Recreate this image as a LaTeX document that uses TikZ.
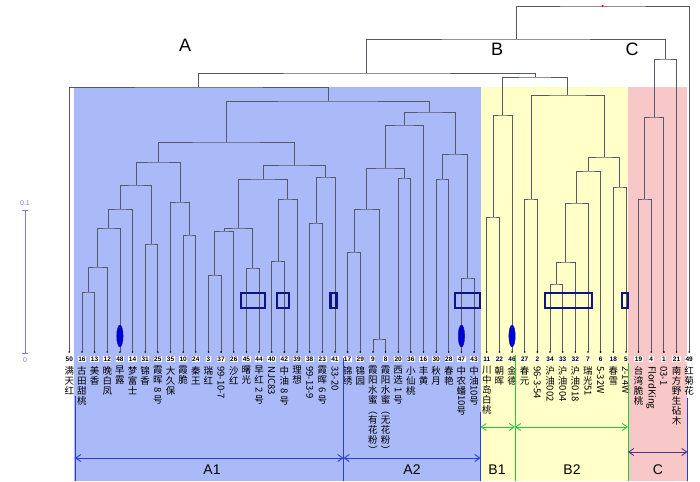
\documentclass[tikz,border=0pt]{standalone}
\usepackage{graphicx}
\usepackage{fontspec}
\setmainfont{Liberation Sans}
\newfontfamily\cjk{Noto Sans CJK SC}
\usetikzlibrary{calc, arrows.meta}

\definecolor{regA}{RGB}{170,186,248}
\definecolor{regB}{RGB}{255,255,200}
\definecolor{regC}{RGB}{248,200,200}
\definecolor{treeline}{RGB}{88,88,108}
\definecolor{markblue}{RGB}{15,20,130}
\definecolor{grpA}{RGB}{40,60,230}
\definecolor{grpB}{RGB}{40,200,60}
\definecolor{grpC}{RGB}{80,50,140}
\definecolor{scaleblue}{RGB}{120,120,240}

\newcommand{\rot}[1]{\rotatebox[origin=c]{-90}{#1}}
% join two branches at a given height
\newcommand{\merge}[4]{%
  \path let \p1=(#2), \p2=(#3) in ({0.5*\x1+0.5*\x2},{-#4pt}) coordinate (#1);
  \draw[branch] (#2) |- (#1) -| (#3);}

\begin{document}
\begin{tikzpicture}[x=1pt, y=-1pt,
  branch/.style={draw=treeline, line width=0.8pt},
  leafnum/.style={fill=white, inner sep=0.6pt, font=\bfseries\fontsize{6.5}{7}\selectfont},
  cn/.style={anchor=north, align=center, inner sep=0pt, font=\cjk\fontsize{9.5}{10}\selectfont},
  cnrot/.style={anchor=west, rotate=-90, inner sep=0pt, font=\cjk\fontsize{9.5}{10}\selectfont},
  hit/.style={draw=markblue, line width=2.2pt},
  grp/.style={<->, >={Straight Barb[length=5pt,width=7pt]}, line width=0.9pt}]
  \useasboundingbox (0,0) rectangle (700,481);

  % Cluster backgrounds
  \fill[regA] (74,87) rectangle (480.5,481);
  \fill[regB] (480.5,87) rectangle (628,481);
  \fill[regC] (628,87) rectangle (687,481);

  % Leaves
  \foreach \i in {0,...,49}
    \coordinate (l\i) at ({69.3+12.65*\i},352);

  % Cluster A1
  \merge{m1}{l1}{l2}{292}
  \merge{m2}{m1}{l3}{267}
  \merge{m3}{m2}{l4}{228}
  \merge{m4}{m3}{l5}{209}
  \merge{m5}{l6}{l7}{244}
  \merge{m6}{m4}{m5}{185}
  \merge{m7}{l9}{l10}{235}
  \merge{m8}{l8}{m7}{202}
  \merge{m9}{m6}{m8}{162}
  \merge{m10}{l11}{l12}{275}
  \merge{m11}{m10}{l13}{231}
  \merge{m12}{l14}{l15}{268}
  \merge{m13}{m11}{m12}{228}
  \merge{m14}{l16}{l17}{261}
  \merge{m15}{m14}{l18}{199}
  \merge{m16}{m13}{m15}{179}
  \merge{m17}{l19}{l20}{223}
  \merge{m18}{m17}{l21}{177}
  \merge{m19}{m16}{m18}{165}
  \merge{m20}{m9}{m19}{142}
  % Cluster A2
  \merge{m21}{l22}{l23}{252}
  \merge{m22}{l24}{l25}{339}
  \merge{m23}{m21}{m22}{209}
  \merge{m24}{l26}{l27}{178}
  \merge{m25}{m23}{m24}{168}
  \merge{m26}{m25}{l28}{125}
  \merge{m27}{l29}{l30}{179}
  \merge{m28}{l31}{l32}{278}
  \merge{m29}{m27}{m28}{154}
  \merge{m30}{m26}{m29}{112}
  \merge{m31}{m20}{m30}{101}
  \merge{m32}{l0}{m31}{87}
  % Cluster B
  \merge{m33}{l33}{l34}{217}
  \merge{m34}{m33}{l35}{115}
  \merge{m35}{l36}{l37}{199}
  \merge{m36}{l38}{l39}{284}
  \merge{m37}{m36}{l40}{262}
  \merge{m38}{m37}{l41}{203}
  \merge{m39}{m38}{l42}{171}
  \merge{m40}{l43}{l44}{187}
  \merge{m41}{m39}{m40}{157}
  \merge{m42}{m35}{m41}{95}
  \merge{m43}{m34}{m42}{77}
  \merge{m44}{m32}{m43}{73}
  % Cluster C and root
  \merge{m45}{l45}{l46}{199}
  \merge{m46}{m45}{l47}{117}
  \merge{m47}{m46}{l48}{59}
  \merge{m48}{m44}{m47}{39}
  \merge{m49}{m48}{l49}{6}
  \fill[red] (m49) circle (1.2pt);

  \foreach \i in {0,...,49}
    \fill (l\i) circle (0.9pt);

  % Marked loci
  \draw[hit] (241,293) rectangle (265,308);
  \draw[hit] (277,293) rectangle (289,308);
  \draw[hit] (330.5,293) rectangle (336.5,308);
  \draw[hit] (455,293) rectangle (480,308);
  \draw[hit] (545,293) rectangle (592,308);
  \draw[hit] (622,293) rectangle (628,308);
  \foreach \i in {4,31,35}
    \filldraw[fill=blue!85!black, draw=markblue] ($(l\i)+(0,-16)$) ellipse (3.2pt and 11pt);

  % Leaf numbers
  \foreach \i/\n in {0/50,1/16,2/13,3/12,4/48,5/14,6/31,7/25,8/35,9/10,10/24,11/3,12/37,13/26,14/45,15/44,16/40,17/42,18/39,19/38,20/23,21/41,22/17,23/29,24/9,25/8,26/20,27/36,28/16,29/30,30/28,31/47,32/43,33/11,34/22,35/46,36/27,37/2,38/34,39/33,40/32,41/7,42/6,43/18,44/5,45/19,46/4,47/1,48/21,49/49}
    \node[leafnum] (n\i) at ($(l\i)+(0,7)$) {\n};

  % Cultivar names
  \node[cn] (t0) at (69.3,366) {满\\天\\红};
  \node[cn] (t1) at (81.95,366) {古\\田\\甜\\桃};
  \node[cn] (t2) at (94.6,366) {美\\香};
  \node[cn] (t3) at (107.25,366) {晚\\白\\凤};
  \node[cn] (t4) at (119.9,366) {早\\露};
  \node[cn] (t5) at (132.55,366) {梦\\富\\士};
  \node[cn] (t6) at (145.2,366) {锦\\香};
  \node[cn] (t7) at (157.85,366) {霞\\晖\\\rot{8}\\号};
  \node[cn] (t8) at (170.5,366) {大\\久\\保};
  \node[cn] (t9) at (183.15,366) {霞\\脆};
  \node[cn] (t10) at (195.8,366) {秦\\王};
  \node[cn] (t11) at (208.45,366) {瑞\\红};
  \node[cnrot] (t12) at (221.1,366) {99-10-7};
  \node[cn] (t13) at (233.75,366) {沙\\红};
  \node[cn] (t14) at (246.4,366) {曙\\光};
  \node[cn] (t15) at (259.05,366) {早\\红\\\rot{2}\\号};
  \node[cnrot] (t16) at (271.7,366) {NJC83};
  \node[cn] (t17) at (284.35,366) {中\\油\\\rot{8}\\号};
  \node[cn] (t18) at (297.0,366) {理\\想};
  \node[cnrot] (t19) at (309.65,366) {99-13-9};
  \node[cn] (t20) at (322.3,366) {霞\\晖\\\rot{6}\\号};
  \node[cnrot] (t21) at (334.95,366) {33-20};
  \node[cn] (t22) at (347.6,366) {锦\\绣};
  \node[cn] (t23) at (360.25,366) {锦\\园};
  \node[cn] (t24) at (372.9,366) {霞\\阳\\水\\蜜\\\rot{（}\\有\\花\\粉\\\rot{）}};
  \node[cn] (t25) at (385.55,366) {霞\\阳\\水\\蜜\\\rot{（}\\无\\花\\粉\\\rot{）}};
  \node[cn] (t26) at (398.2,366) {西\\选\\\rot{1}\\号};
  \node[cn] (t27) at (410.85,366) {小\\仙\\桃};
  \node[cn] (t28) at (423.5,366) {丰\\黄};
  \node[cn] (t29) at (436.15,366) {秋\\月};
  \node[cn] (t30) at (448.8,366) {春\\艳};
  \node[cn] (t31) at (461.45,366) {中\\农\\蟠\\\rot{10}\\号};
  \node[cn] (t32) at (474.1,366) {中\\油\\\rot{10}\\号};
  \node[cn] (t33) at (486.75,366) {川\\中\\岛\\白\\桃};
  \node[cn] (t34) at (499.4,366) {朝\\晖};
  \node[cn] (t35) at (512.05,366) {金\\德};
  \node[cn] (t36) at (524.7,366) {春\\元};
  \node[cnrot] (t37) at (537.35,366) {96-3-54};
  \node[cn] (t38) at (550.0,366) {沪\\油\\\rot{002}};
  \node[cn] (t39) at (562.65,366) {沪\\油\\\rot{004}};
  \node[cn] (t40) at (575.3,366) {沪\\油\\\rot{018}};
  \node[cn] (t41) at (587.95,366) {瑞\\光\\\rot{51}};
  \node[cnrot] (t42) at (600.6,366) {5-32W};
  \node[cn] (t43) at (613.25,366) {春\\雪};
  \node[cnrot] (t44) at (625.9,366) {2-14W};
  \node[cn] (t45) at (638.55,366) {台\\湾\\脆\\桃};
  \node[cnrot] (t46) at (651.2,366) {FlordKing};
  \node[cnrot] (t47) at (663.85,366) {03-1};
  \node[cn] (t48) at (676.5,366) {南\\方\\野\\生\\砧\\木};
  \node[cn] (t49) at (689.15,366) {红\\菊\\花};

  % Group borders and spans
  \draw[grpA, line width=1pt] (75,396) -- (75,481);
  \draw[grpA, line width=1pt] (343.5,358) -- (343.5,481);
  \draw[grpA, line width=1pt] (480.5,412) -- (480.5,481);
  \draw[grpB, line width=1pt] (515,355) -- (515,481);
  \draw[grpB, line width=1pt] (628,363) -- (628,481);
  \draw[grpA, line width=1pt] (687.5,398) -- (687.5,481);
  \draw[grp, grpA] (75,458) -- (343.5,458);
  \draw[grp, grpA] (343.5,458) -- (480.5,458);
  \draw[grp, grpB] (480.5,427) -- (515,427);
  \draw[grp, grpB] (515,427) -- (628,427);
  \draw[grp, grpC] (628,452) -- (687.5,452);

  % Group labels
  \node[font=\fontsize{18}{18}\selectfont] (labA) at (185,45) {A};
  \node[font=\fontsize{18}{18}\selectfont] (labB) at (497,49) {B};
  \node[font=\fontsize{18}{18}\selectfont] (labC) at (632,49) {C};
  \node[font=\fontsize{14}{14}\selectfont] (labA1) at (212,470) {A1};
  \node[font=\fontsize{14}{14}\selectfont] (labA2) at (412,470) {A2};
  \node[font=\fontsize{14}{14}\selectfont] (labB1) at (497,470) {B1};
  \node[font=\fontsize{14}{14}\selectfont] (labB2) at (572,470) {B2};
  \node[font=\fontsize{14}{14}\selectfont] (labC1) at (658,470) {C};

  % Scale bar
  \draw[scaleblue, line width=0.8pt] (25,210) -- (25,353);
  \draw[scaleblue, line width=0.8pt] (22,210) -- (28,210);
  \draw[scaleblue, line width=0.8pt] (22,353) -- (28,353);
  \node[scaleblue, font=\fontsize{7}{7}\selectfont] (s1) at (25,203) {0.1};
  \node[scaleblue, font=\fontsize{7}{7}\selectfont] (s0) at (25,360) {0};
\end{tikzpicture}
\end{document}
